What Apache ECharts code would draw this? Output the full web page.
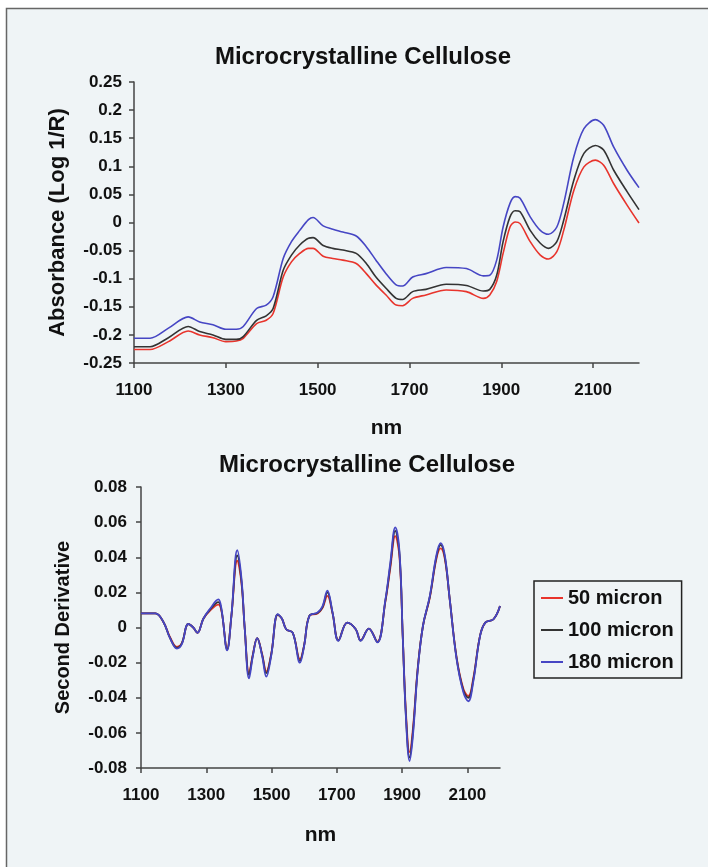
<!DOCTYPE html>
<html>
<head>
<meta charset="utf-8">
<script src="https://cdn.jsdelivr.net/npm/echarts@6/dist/echarts.min.js"></script>
<style>
html,body{margin:0;padding:0;background:#fff;}
#c{width:708px;height:867px;}
</style>
</head>
<body>
<div id="c"></div>
<script>
// ---- Top chart: absorbance spectra ----
const nmTop = [1100,1135,1175,1218,1243,1272,1300,1323,1338,1367,1388,1403,1425,1443,1461,1480,1490,1512,1533,1555,1584,1606,1627,1649,1671,1685,1707,1736,1780,1824,1861,1875,1890,1904,1919,1930,1941,1963,1985,2003,2021,2036,2058,2080,2105,2123,2145,2174,2200];
const abs50 = [-0.226,-0.226,-0.212,-0.193,-0.200,-0.205,-0.212,-0.211,-0.206,-0.180,-0.174,-0.162,-0.097,-0.070,-0.055,-0.046,-0.046,-0.060,-0.064,-0.067,-0.073,-0.091,-0.111,-0.129,-0.147,-0.148,-0.135,-0.129,-0.120,-0.123,-0.135,-0.129,-0.105,-0.055,-0.008,0.001,-0.002,-0.034,-0.058,-0.065,-0.052,-0.014,0.057,0.099,0.111,0.102,0.069,0.031,-0.001];
const abs100 = [-0.221,-0.221,-0.205,-0.185,-0.194,-0.200,-0.208,-0.208,-0.203,-0.174,-0.166,-0.153,-0.085,-0.058,-0.040,-0.028,-0.027,-0.041,-0.046,-0.049,-0.055,-0.073,-0.097,-0.117,-0.135,-0.137,-0.123,-0.119,-0.110,-0.112,-0.122,-0.119,-0.094,-0.034,0.010,0.021,0.019,-0.014,-0.037,-0.046,-0.034,0.004,0.075,0.123,0.137,0.129,0.093,0.055,0.023];
const abs180 = [-0.206,-0.206,-0.188,-0.168,-0.177,-0.182,-0.190,-0.190,-0.185,-0.153,-0.147,-0.132,-0.064,-0.034,-0.014,0.005,0.009,-0.006,-0.012,-0.017,-0.024,-0.043,-0.067,-0.091,-0.111,-0.113,-0.097,-0.091,-0.080,-0.082,-0.095,-0.094,-0.067,-0.008,0.034,0.046,0.043,0.010,-0.014,-0.021,-0.008,0.034,0.117,0.167,0.183,0.173,0.134,0.093,0.062];

// ---- Bottom chart: second derivative ----
const nmBot = [1100,1144,1169,1189,1210,1225,1245,1260,1273,1291,1311,1337,1347,1364,1377,1395,1408,1418,1431,1443,1456,1471,1484,1499,1519,1532,1545,1565,1587,1600,1616,1641,1656,1671,1687,1705,1732,1758,1773,1798,1824,1849,1864,1879,1892,1902,1912,1923,1933,1948,1964,1985,2005,2018,2031,2046,2067,2088,2103,2118,2139,2155,2180,2200];
const d50 = [0.008,0.008,0.003,-0.0055,-0.011,-0.009,0.002,0,-0.003,0.005,0.0095,0.013,0.009,-0.012,0.0066,0.038,0.025,-0.001,-0.026,-0.015,-0.006,-0.015,-0.025,-0.015,0.0072,0.005,-0.001,-0.003,-0.018,-0.010,0.0066,0.008,0.011,0.018,0.008,-0.0072,0.0028,-0.001,-0.0072,-0.0006,-0.008,0.015,0.034,0.052,0.040,-0.005,-0.049,-0.071,-0.058,-0.023,0.001,0.017,0.039,0.045,0.039,0.016,-0.017,-0.035,-0.039,-0.029,-0.0045,0.0028,0.0047,0.0123];
const d100 = [0.008,0.008,0.003,-0.006,-0.0115,-0.009,0.002,0,-0.003,0.005,0.010,0.0145,0.0095,-0.0125,0.0066,0.041,0.026,-0.001,-0.027,-0.0155,-0.006,-0.0155,-0.026,-0.0155,0.0074,0.005,-0.001,-0.003,-0.019,-0.010,0.0066,0.0083,0.0115,0.020,0.0083,-0.0074,0.0028,-0.001,-0.0074,-0.0006,-0.0083,0.0155,0.0355,0.055,0.042,-0.005,-0.051,-0.074,-0.060,-0.0235,0.001,0.0175,0.040,0.047,0.040,0.016,-0.0175,-0.036,-0.040,-0.030,-0.0046,0.0028,0.0047,0.0123];
const d180 = [0.008,0.008,0.003,-0.006,-0.012,-0.0095,0.002,0,-0.003,0.005,0.0105,0.016,0.010,-0.013,0.0066,0.044,0.0275,-0.001,-0.029,-0.016,-0.006,-0.016,-0.028,-0.016,0.0076,0.005,-0.001,-0.003,-0.020,-0.0104,0.0066,0.0085,0.012,0.021,0.0085,-0.0076,0.0028,-0.001,-0.0076,-0.0006,-0.0085,0.016,0.037,0.057,0.043,-0.005,-0.052,-0.076,-0.062,-0.024,0.001,0.018,0.041,0.048,0.041,0.016,-0.018,-0.037,-0.042,-0.031,-0.0047,0.0028,0.0047,0.0123];

const seriesNames = ['50 micron','100 micron','180 micron'];
const colors = ['#e8342c','#333333','#4646c4'];
const xTicks = [1100,1300,1500,1700,1900,2100];

const FONT = 'Liberation Sans, Arial, sans-serif';
const pair = (xs, ys) => xs.map((x, i) => [x, ys[i]]);

const chart = echarts.init(document.getElementById('c'), null, {renderer: 'canvas'});

function xAxisCfg(gridIndex, gap) {
  return {
    gridIndex, type: 'value', min: 1100, max: 2200, interval: 100,
    name: 'nm', nameLocation: 'middle', nameGap: gap,
    nameTextStyle: {fontFamily: FONT, fontWeight: 'bold', fontSize: 21, color: '#111'},
    axisLine: {show: true, onZero: false, lineStyle: {color: '#444', width: 1.5}},
    axisTick: {show: true, length: 5, inside: false, customValues: xTicks, lineStyle: {color: '#444', width: 1.5}},
    axisLabel: {customValues: xTicks, margin: 19, formatter: v => String(v),
                fontFamily: FONT, fontWeight: 'bold', fontSize: 17, color: '#111'},
    splitLine: {show: false}
  };
}

function yAxisCfg(gridIndex, min, max, interval, name, gap, nameSize, margin) {
  return {
    gridIndex, type: 'value', min, max, interval,
    name, nameLocation: 'middle', nameGap: gap,
    nameTextStyle: {fontFamily: FONT, fontWeight: 'bold', fontSize: nameSize, color: '#111'},
    axisLine: {show: true, onZero: false, lineStyle: {color: '#444', width: 1.5}},
    axisTick: {show: true, length: 5, lineStyle: {color: '#444', width: 1.5}},
    axisLabel: {margin, fontFamily: FONT, fontWeight: 'bold', fontSize: 17, color: '#111'},
    splitLine: {show: false}
  };
}

const option = {
  backgroundColor: '#ffffff',
  animation: false,
  color: colors,
  graphic: [{
    type: 'rect', z: -10, silent: true,
    shape: {x: 6.5, y: 8.5, width: 740, height: 900},
    style: {fill: '#eff4f6', stroke: '#666', lineWidth: 1.5}
  }],
  title: [
    {text: 'Microcrystalline Cellulose', left: 358, top: 40, textAlign: 'center',
     textStyle: {fontFamily: FONT, fontWeight: 'bold', fontSize: 24, color: '#111'}},
    {text: 'Microcrystalline Cellulose', left: 362, top: 448, textAlign: 'center',
     textStyle: {fontFamily: FONT, fontWeight: 'bold', fontSize: 24, color: '#111'}}
  ],
  legend: {
    data: seriesNames,
    orient: 'vertical', left: 534, top: 581,
    padding: [7, 8, 6, 7], itemGap: 12,
    itemWidth: 22, itemHeight: 2, icon: 'rect',
    borderColor: '#222', borderWidth: 1.5, backgroundColor: 'transparent',
    textStyle: {fontFamily: FONT, fontWeight: 'bold', fontSize: 20, color: '#111', lineHeight: 20}
  },
  grid: [
    {left: 134, top: 82, width: 505, height: 281, containLabel: false},
    {left: 141, top: 487, width: 359, height: 281, containLabel: false}
  ],
  xAxis: [xAxisCfg(0, 55), xAxisCfg(1, 57)],
  yAxis: [
    yAxisCfg(0, -0.25, 0.25, 0.05, 'Absorbance (Log 1/R)', 65, 22, 12),
    yAxisCfg(1, -0.08, 0.08, 0.02, 'Second Derivative', 68, 20, 14)
  ],
  series: [
    {name: seriesNames[0], type: 'line', xAxisIndex: 0, yAxisIndex: 0, data: pair(nmTop, abs50), smooth: 0.3, symbol: 'none', lineStyle: {width: 1.6, color: colors[0]}},
    {name: seriesNames[1], type: 'line', xAxisIndex: 0, yAxisIndex: 0, data: pair(nmTop, abs100), smooth: 0.3, symbol: 'none', lineStyle: {width: 1.6, color: colors[1]}},
    {name: seriesNames[2], type: 'line', xAxisIndex: 0, yAxisIndex: 0, data: pair(nmTop, abs180), smooth: 0.3, symbol: 'none', lineStyle: {width: 1.6, color: colors[2]}},
    {name: seriesNames[0], type: 'line', xAxisIndex: 1, yAxisIndex: 1, data: pair(nmBot, d50), smooth: 0.4, symbol: 'none', lineStyle: {width: 1.8, color: colors[0]}},
    {name: seriesNames[1], type: 'line', xAxisIndex: 1, yAxisIndex: 1, data: pair(nmBot, d100), smooth: 0.4, symbol: 'none', lineStyle: {width: 1.8, color: colors[1]}},
    {name: seriesNames[2], type: 'line', xAxisIndex: 1, yAxisIndex: 1, data: pair(nmBot, d180), smooth: 0.4, symbol: 'none', lineStyle: {width: 1.8, color: colors[2]}}
  ]
};
chart.setOption(option);
</script>
</body>
</html>
